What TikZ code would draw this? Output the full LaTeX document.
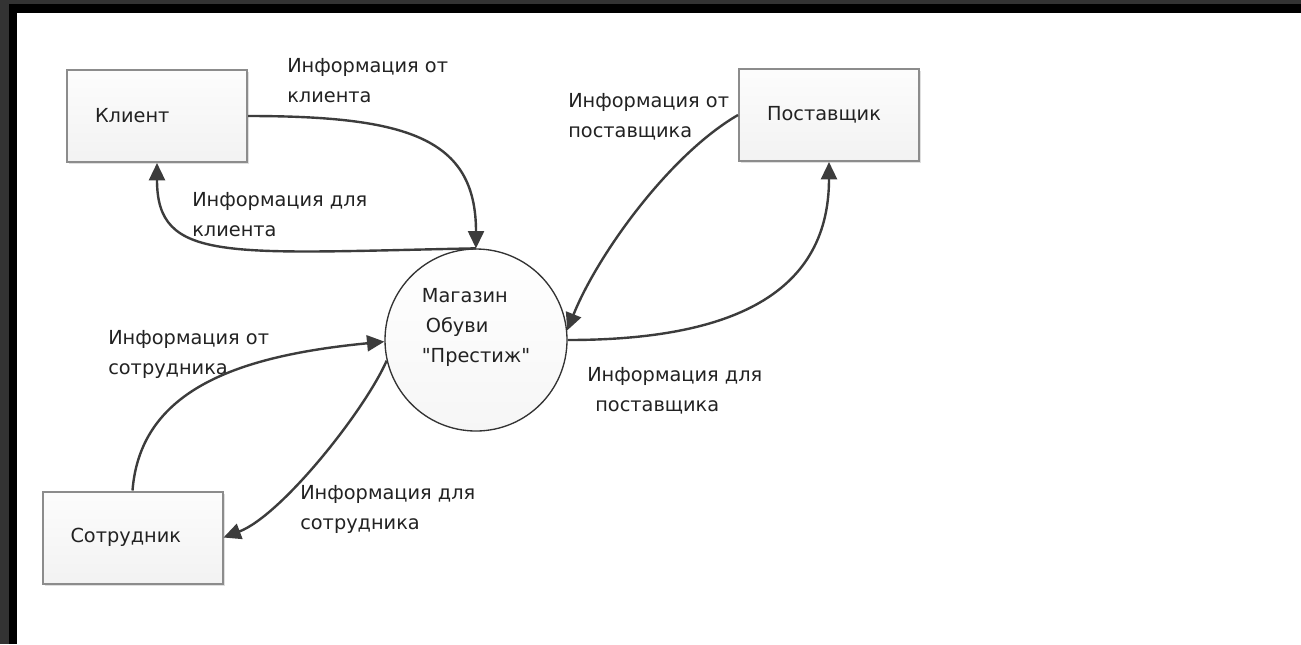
\documentclass[tikz,border=0pt]{standalone}
\usepackage{fontspec}
\setmainfont{DejaVu Sans}
\usetikzlibrary{arrows.meta, shadows}

\definecolor{linegray}{RGB}{60,60,60}
\definecolor{boxgray}{RGB}{140,140,140}
\definecolor{framegray}{RGB}{51,51,51}
\definecolor{textdark}{RGB}{34,34,34}

\begin{document}
\begin{tikzpicture}[x=0.75pt, y=-0.75pt,
  every node/.style={font=\fontsize{14.5}{22.5}\selectfont, text=textdark},
  entity/.style={draw=boxgray, line width=1.5pt, top color=gray!2, bottom color=gray!10,
    minimum height=69pt, text width=93pt, inner xsep=21pt, align=left,
    drop shadow={shadow xshift=1.5pt, shadow yshift=-1.5pt, opacity=0.25}},
  process/.style={circle, draw=gray!40!black, line width=1pt, top color=white,
    bottom color=gray!7, minimum size=136.5pt, inner sep=0pt, align=left},
  flow/.style={draw=linegray, line width=1.8pt, -{Triangle[length=13pt, width=12pt]}},
  flowlabel/.style={anchor=west, align=left, inner sep=0pt}]

  % рамка
  \fill[framegray] (0,0) rectangle (1301,644);
  \fill[black] (9,4) rectangle (1301,644);
  \fill[white] (17,13) rectangle (1301,644);

  % внешние сущности
  \node[entity] (klient) at (157,116) {Клиент};
  \node[entity] (postavshik) at (829,115) {Поставщик};
  \node[entity] (sotrudnik) at (132.5,537.5) {Сотрудник};

  % процесс
  \node[process] (magazin) at (476,340)
    {Магазин\\\hspace{3pt}Обуви\\\textquotedbl Престиж\textquotedbl\\\mbox{}};

  % подписи потоков
  \node[flowlabel] (lblKlientOt) at (287,81) {Информация от\\клиента};
  \node[flowlabel] (lblKlientDlya) at (192,215) {Информация для\\клиента};
  \node[flowlabel] (lblPostOt) at (568,117) {Информация от\\поставщика};
  \node[flowlabel] (lblPostDlya) at (587,391) {Информация для\\\hspace{6pt}поставщика};
  \node[flowlabel] (lblSotrOt) at (108,354) {Информация от\\сотрудника};
  \node[flowlabel] (lblSotrDlya) at (300,509) {Информация для\\сотрудника};

  % потоки данных
  \draw[flow] (klient.east) .. controls +(160,0) and +(0,-110) .. (magazin.north);
  \draw[flow] (magazin.north) .. controls +(-250,5) and +(0,100) .. (klient.south);
  \draw[flow] (postavshik.west) .. controls +(-69,40) and +(30,-75) .. (magazin.6);
  \draw[flow] (magazin.east) .. controls +(153,0) and +(0,138) .. (postavshik.south);
  \draw[flow] (sotrudnik.north) .. controls +(8,-102) and +(-144,14) .. (magazin.181);
  \draw[flow] (magazin.193) .. controls +(-22,50) and +(58,-22) .. (sotrudnik.east);
\end{tikzpicture}
\end{document}
